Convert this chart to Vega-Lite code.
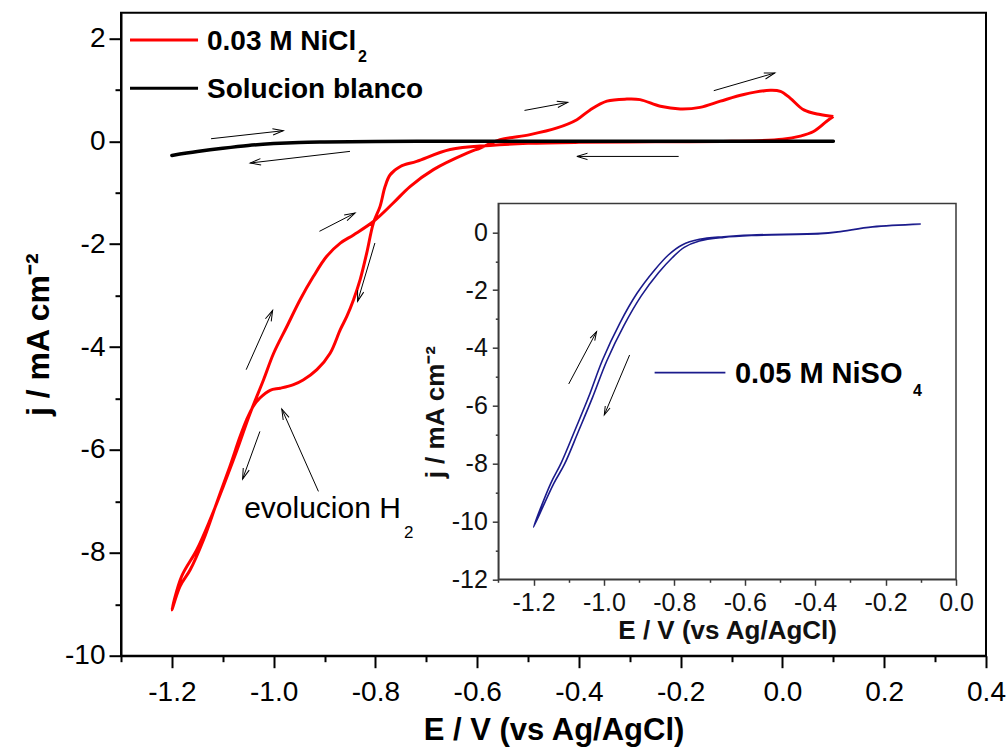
{
  "$schema": "https://vega.github.io/schema/vega-lite/v6.json",
  "width": 865,
  "height": 643,
  "autosize": {"type": "none"},
  "padding": {"left": 121, "top": 12.7, "right": 22, "bottom": 94.3},
  "config": {
    "font": "Liberation Sans",
    "view": {"stroke": "#000000", "strokeWidth": 2},
    "axis": {"grid": false}
  },
  "datasets": {
    "nicl2": [
      {"i": 1, "E": 0.100, "j": 0.48}, {"i": 2, "E": 0.087, "j": 0.39}, {"i": 3, "E": 0.061, "j": 0.19},
      {"i": 4, "E": 0.035, "j": 0.10}, {"i": 5, "E": 0.000, "j": 0.04}, {"i": 6, "E": -0.10, "j": 0.0},
      {"i": 7, "E": -0.25, "j": -0.01}, {"i": 8, "E": -0.40, "j": -0.02}, {"i": 9, "E": -0.50, "j": -0.04},
      {"i": 10, "E": -0.575, "j": -0.08}, {"i": 11, "E": -0.653, "j": -0.16}, {"i": 12, "E": -0.719, "j": -0.39},
      {"i": 13, "E": -0.751, "j": -0.49}, {"i": 14, "E": -0.771, "j": -0.65}, {"i": 15, "E": -0.781, "j": -0.88},
      {"i": 16, "E": -0.791, "j": -1.27}, {"i": 17, "E": -0.804, "j": -1.59}, {"i": 18, "E": -0.817, "j": -2.17},
      {"i": 19, "E": -0.830, "j": -2.69}, {"i": 20, "E": -0.843, "j": -3.08}, {"i": 21, "E": -0.856, "j": -3.40},
      {"i": 22, "E": -0.869, "j": -3.66}, {"i": 23, "E": -0.889, "j": -4.12}, {"i": 24, "E": -0.915, "j": -4.44},
      {"i": 25, "E": -0.942, "j": -4.64}, {"i": 26, "E": -0.961, "j": -4.73}, {"i": 27, "E": -0.987, "j": -4.80},
      {"i": 28, "E": -1.007, "j": -4.84}, {"i": 29, "E": -1.027, "j": -4.99}, {"i": 30, "E": -1.040, "j": -5.15},
      {"i": 31, "E": -1.053, "j": -5.41}, {"i": 32, "E": -1.066, "j": -5.74}, {"i": 33, "E": -1.086, "j": -6.32},
      {"i": 34, "E": -1.112, "j": -7.03}, {"i": 35, "E": -1.138, "j": -7.75}, {"i": 36, "E": -1.164, "j": -8.33},
      {"i": 37, "E": -1.184, "j": -8.65}, {"i": 38, "E": -1.200, "j": -9.11}, {"i": 39, "E": -1.181, "j": -8.46},
      {"i": 40, "E": -1.151, "j": -7.94}, {"i": 41, "E": -1.125, "j": -7.36}, {"i": 42, "E": -1.099, "j": -6.71},
      {"i": 43, "E": -1.072, "j": -6.00}, {"i": 44, "E": -1.046, "j": -5.28}, {"i": 45, "E": -1.020, "j": -4.64},
      {"i": 46, "E": -1.000, "j": -4.12}, {"i": 47, "E": -0.974, "j": -3.60}, {"i": 48, "E": -0.948, "j": -3.08},
      {"i": 49, "E": -0.922, "j": -2.63}, {"i": 50, "E": -0.896, "j": -2.24}, {"i": 51, "E": -0.869, "j": -1.98},
      {"i": 52, "E": -0.843, "j": -1.82}, {"i": 53, "E": -0.804, "j": -1.56}, {"i": 54, "E": -0.765, "j": -1.20},
      {"i": 55, "E": -0.732, "j": -0.88}, {"i": 56, "E": -0.686, "j": -0.55}, {"i": 57, "E": -0.620, "j": -0.23},
      {"i": 58, "E": -0.594, "j": -0.13}, {"i": 59, "E": -0.555, "j": 0.03}, {"i": 60, "E": -0.496, "j": 0.13},
      {"i": 61, "E": -0.443, "j": 0.26}, {"i": 62, "E": -0.404, "j": 0.42}, {"i": 63, "E": -0.378, "j": 0.61},
      {"i": 64, "E": -0.345, "j": 0.78}, {"i": 65, "E": -0.306, "j": 0.82}, {"i": 66, "E": -0.280, "j": 0.81},
      {"i": 67, "E": -0.240, "j": 0.68}, {"i": 68, "E": -0.201, "j": 0.63}, {"i": 69, "E": -0.162, "j": 0.66},
      {"i": 70, "E": -0.122, "j": 0.78}, {"i": 71, "E": -0.076, "j": 0.91}, {"i": 72, "E": -0.024, "j": 0.99},
      {"i": 73, "E": -0.004, "j": 0.97}, {"i": 74, "E": 0.015, "j": 0.84}, {"i": 75, "E": 0.042, "j": 0.61},
      {"i": 76, "E": 0.074, "j": 0.52}, {"i": 77, "E": 0.100, "j": 0.48}
    ],
    "blanco": [
      {"i": 1, "E": 0.10, "j": 0.0}, {"i": 2, "E": -0.60, "j": 0.0}, {"i": 3, "E": -0.80, "j": -0.004},
      {"i": 4, "E": -0.90, "j": -0.012}, {"i": 5, "E": -0.95, "j": -0.022}, {"i": 6, "E": -1.00, "j": -0.045},
      {"i": 7, "E": -1.05, "j": -0.08}, {"i": 8, "E": -1.10, "j": -0.135}, {"i": 9, "E": -1.15, "j": -0.20},
      {"i": 10, "E": -1.20, "j": -0.275}
    ],
    "niso4": [
      {"i": 1, "E": -0.10, "j": 0.28}, {"i": 2, "E": -0.237, "j": 0.185}, {"i": 3, "E": -0.335, "j": 0.01},
      {"i": 4, "E": -0.385, "j": -0.05}, {"i": 5, "E": -0.581, "j": -0.11}, {"i": 6, "E": -0.66, "j": -0.175},
      {"i": 7, "E": -0.729, "j": -0.30}, {"i": 8, "E": -0.772, "j": -0.52}, {"i": 9, "E": -0.806, "j": -0.88},
      {"i": 10, "E": -0.845, "j": -1.40}, {"i": 11, "E": -0.894, "j": -2.20}, {"i": 12, "E": -0.943, "j": -3.22},
      {"i": 13, "E": -0.992, "j": -4.45}, {"i": 14, "E": -1.032, "j": -5.70}, {"i": 15, "E": -1.072, "j": -6.87},
      {"i": 16, "E": -1.112, "j": -8.02}, {"i": 17, "E": -1.143, "j": -8.70}, {"i": 18, "E": -1.20, "j": -10.2},
      {"i": 19, "E": -1.151, "j": -8.68}, {"i": 20, "E": -1.122, "j": -7.99}, {"i": 21, "E": -1.082, "j": -6.835},
      {"i": 22, "E": -1.043, "j": -5.68}, {"i": 23, "E": -1.004, "j": -4.415}, {"i": 24, "E": -0.955, "j": -3.146},
      {"i": 25, "E": -0.906, "j": -2.109}, {"i": 26, "E": -0.856, "j": -1.303}, {"i": 27, "E": -0.817, "j": -0.784},
      {"i": 28, "E": -0.778, "j": -0.438}, {"i": 29, "E": -0.729, "j": -0.243}, {"i": 30, "E": -0.66, "j": -0.151},
      {"i": 31, "E": -0.581, "j": -0.093}, {"i": 32, "E": -0.385, "j": -0.035}, {"i": 33, "E": -0.335, "j": 0.021},
      {"i": 34, "E": -0.237, "j": 0.194}, {"i": 35, "E": -0.10, "j": 0.288}
    ],
    "legendMain": [
      {"serie": "0.03 M NiCl2", "E": -1.2823, "E2": -1.1486, "j": 1.97},
      {"serie": "Solucion blanco", "E": -1.2823, "E2": -1.1486, "j": 1.03}
    ],
    "labelsMainBold": [
      {"E": -1.131, "j": 1.775, "t": "0.03 M NiCl"},
      {"E": -1.131, "j": 0.842, "t": "Solucion blanco"}
    ],
    "subMainBold": [{"E": -0.834, "j": 1.547, "t": "2"}],
    "labelsMainPlain": [{"E": -1.058, "j": -7.33, "t": "evolucion H"}],
    "subMainPlain": [{"E": -0.744, "j": -7.718, "t": "2"}],
    "arrowsMain": [
      {"E": -1.123, "j": 0.05, "E2": -0.981, "j2": 0.206},
      {"E": -0.850, "j": -0.196, "E2": -1.046, "j2": -0.422},
      {"E": -0.507, "j": 0.60, "E2": -0.422, "j2": 0.756},
      {"E": -0.135, "j": 0.984, "E2": -0.015, "j2": 1.328},
      {"E": -0.204, "j": -0.294, "E2": -0.404, "j2": -0.294},
      {"E": -0.910, "j": -1.75, "E2": -0.840, "j2": -1.394},
      {"E": -0.801, "j": -1.977, "E2": -0.835, "j2": -3.112},
      {"E": -1.054, "j": -4.44, "E2": -1.002, "j2": -3.287},
      {"E": -1.027, "j": -5.64, "E2": -1.061, "j2": -6.565},
      {"E": -0.912, "j": -6.806, "E2": -0.984, "j2": -5.204}
    ],
    "insetFrame": [{"E": -1.3, "E2": 0.0, "j": -12, "j2": 1}],
    "legendInset": [{"E": -0.856, "E2": -0.655, "j": -4.854}],
    "labelInset": [{"E": -0.628, "j": -5.22, "t": "0.05 M NiSO"}],
    "subInset": [{"E": -0.122, "j": -5.66, "t": "4"}],
    "arrowsInset": [
      {"E": -1.10, "j": -5.245, "E2": -1.021, "j2": -3.436},
      {"E": -0.927, "j": -4.242, "E2": -0.999, "j2": -6.317}
    ]
  },
  "layer": [
    {
      "layer": [
        {
          "data": {"name": "nicl2"},
          "mark": {"type": "line", "color": "#ff0000", "strokeWidth": 3, "strokeJoin": "round", "interpolate": "catmull-rom"},
          "encoding": {
            "x": {
              "field": "E", "type": "quantitative",
              "scale": {"domain": [-1.3, 0.4], "nice": false, "zero": false},
              "axis": {
                "orient": "bottom",
                "title": "E / V (vs Ag/AgCl)",
                "values": [-1.2, -1.0, -0.8, -0.6, -0.4, -0.2, 0, 0.2, 0.4],
                "labelExpr": "(datum.value < -1e-9 ? '-' : '') + format(abs(datum.value), '.1f')",
                "tickSize": 12, "tickWidth": 2, "tickColor": "#000000",
                "domainColor": "#000000", "domainWidth": 2,
                "labelFontSize": 28, "labelColor": "#000000", "labelPadding": 11,
                "labelOverlap": false, "labelFlush": false,
                "titleFontSize": 31, "titleFontWeight": "bold", "titleColor": "#000000",
                "titleBaseline": "alphabetic", "titleY": 84
              }
            },
            "y": {
              "field": "j", "type": "quantitative",
              "scale": {"domain": [-10, 2.5], "nice": false, "zero": false},
              "axis": {
                "orient": "left",
                "title": "j / mA cm⁻²",
                "values": [-10, -8, -6, -4, -2, 0, 2],
                "labelExpr": "(datum.value < 0 ? '-' : '') + format(abs(datum.value), 'd')",
                "tickSize": 12, "tickWidth": 2, "tickColor": "#000000",
                "domainColor": "#000000", "domainWidth": 2,
                "labelFontSize": 28, "labelColor": "#000000", "labelPadding": 4,
                "labelOverlap": false, "labelFlush": false,
                "titleFontSize": 32, "titleFontWeight": "bold", "titleColor": "#000000",
                "titleAngle": 270, "titleBaseline": "alphabetic", "titleX": -73
              }
            },
            "order": {"field": "i", "type": "quantitative"}
          }
        },
        {
          "data": {"name": "blanco"},
          "mark": {"type": "line", "color": "#000000", "strokeWidth": 3.5, "strokeCap": "round", "interpolate": "monotone"},
          "encoding": {
            "x": {
              "field": "E", "type": "quantitative",
              "axis": {
                "orient": "bottom", "title": null, "labels": false, "domain": false,
                "values": [-1.3, -1.1, -0.9, -0.7, -0.5, -0.3, -0.1, 0.1, 0.3],
                "tickSize": 6, "tickWidth": 2, "tickColor": "#000000"
              }
            },
            "y": {
              "field": "j", "type": "quantitative",
              "axis": {
                "orient": "left", "title": null, "labels": false, "domain": false,
                "values": [-9, -7, -5, -3, -1, 1],
                "tickSize": 6, "tickWidth": 2, "tickColor": "#000000"
              }
            },
            "order": {"field": "i", "type": "quantitative"}
          }
        },
        {
          "data": {"name": "legendMain"},
          "mark": {"type": "rule", "strokeWidth": 3},
          "encoding": {
            "x": {"field": "E", "type": "quantitative", "axis": null},
            "x2": {"field": "E2"},
            "y": {"field": "j", "type": "quantitative", "axis": null},
            "color": {
              "field": "serie", "type": "nominal",
              "scale": {"domain": ["0.03 M NiCl2", "Solucion blanco"], "range": ["#ff0000", "#000000"]},
              "legend": null
            }
          }
        },
        {
          "data": {"name": "labelsMainBold"},
          "mark": {"type": "text", "align": "left", "baseline": "alphabetic", "fontSize": 28, "fontWeight": "bold", "color": "#000000"},
          "encoding": {
            "x": {"field": "E", "type": "quantitative", "axis": null},
            "y": {"field": "j", "type": "quantitative", "axis": null},
            "text": {"field": "t"}
          }
        },
        {
          "data": {"name": "subMainBold"},
          "mark": {"type": "text", "align": "left", "baseline": "alphabetic", "fontSize": 16, "fontWeight": "bold", "color": "#000000"},
          "encoding": {
            "x": {"field": "E", "type": "quantitative", "axis": null},
            "y": {"field": "j", "type": "quantitative", "axis": null},
            "text": {"field": "t"}
          }
        },
        {
          "data": {"name": "labelsMainPlain"},
          "mark": {"type": "text", "align": "left", "baseline": "alphabetic", "fontSize": 30, "color": "#000000"},
          "encoding": {
            "x": {"field": "E", "type": "quantitative", "axis": null},
            "y": {"field": "j", "type": "quantitative", "axis": null},
            "text": {"field": "t"}
          }
        },
        {
          "data": {"name": "subMainPlain"},
          "mark": {"type": "text", "align": "left", "baseline": "alphabetic", "fontSize": 17, "color": "#000000"},
          "encoding": {
            "x": {"field": "E", "type": "quantitative", "axis": null},
            "y": {"field": "j", "type": "quantitative", "axis": null},
            "text": {"field": "t"}
          }
        },
        {
          "data": {"name": "arrowsMain"},
          "mark": {"type": "rule", "color": "#000000", "strokeWidth": 1},
          "encoding": {
            "x": {"field": "E", "type": "quantitative", "axis": null},
            "y": {"field": "j", "type": "quantitative", "axis": null},
            "x2": {"field": "E2"},
            "y2": {"field": "j2"}
          }
        },
        {
          "data": {"name": "arrowsMain"},
          "mark": {
            "type": "point", "shape": "M -0.3 1 L 0 0 L 0.3 1", "filled": false,
            "size": 450, "strokeWidth": 1, "color": "#000000", "opacity": 1,
            "angle": {"expr": "atan2((datum.E2 - datum.E) * 508.6, (datum.j2 - datum.j) * 51.44) * 180 / PI"}
          },
          "encoding": {
            "x": {"field": "E2", "type": "quantitative", "axis": null},
            "y": {"field": "j2", "type": "quantitative", "axis": null}
          }
        }
      ],
      "resolve": {"axis": {"x": "independent", "y": "independent"}}
    },
    {
      "layer": [
        {
          "data": {"name": "niso4"},
          "mark": {"type": "line", "color": "#1b1b8c", "strokeWidth": 1.6, "interpolate": "catmull-rom"},
          "encoding": {
            "x": {
              "field": "E", "type": "quantitative",
              "scale": {"domain": [-1.3, 0.0], "range": [377.3, 835], "nice": false, "zero": false},
              "axis": {
                "orient": "bottom", "offset": -76.4,
                "title": "E / V (vs Ag/AgCl)",
                "values": [-1.2, -1.0, -0.8, -0.6, -0.4, -0.2, 0],
                "labelExpr": "(datum.value < -1e-9 ? '-' : '') + format(abs(datum.value), '.1f')",
                "tickSize": 6, "tickWidth": 1.5, "tickColor": "#3a3a3a",
                "domainColor": "#3a3a3a", "domainWidth": 1.5,
                "labelFontSize": 25, "labelColor": "#111111", "labelPadding": 5,
                "labelOverlap": false, "labelFlush": false,
                "titleFontSize": 26, "titleFontWeight": "bold", "titleColor": "#111111",
                "titleBaseline": "alphabetic", "titleY": 59
              }
            },
            "y": {
              "field": "j", "type": "quantitative",
              "scale": {"domain": [-12, 1], "range": [566.6, 190.7], "nice": false, "zero": false},
              "axis": {
                "orient": "left", "offset": -377.3,
                "title": "j / mA cm⁻²",
                "values": [-12, -10, -8, -6, -4, -2, 0],
                "labelExpr": "(datum.value < 0 ? '-' : '') + format(abs(datum.value), 'd')",
                "tickSize": 6, "tickWidth": 1.5, "tickColor": "#3a3a3a",
                "domainColor": "#3a3a3a", "domainWidth": 1.5,
                "labelFontSize": 25, "labelColor": "#111111", "labelPadding": 5,
                "labelOverlap": false, "labelFlush": false,
                "titleFontSize": 26, "titleFontWeight": "bold", "titleColor": "#111111",
                "titleAngle": 270, "titleBaseline": "alphabetic", "titleX": -55, "titleY": 399
              }
            },
            "order": {"field": "i", "type": "quantitative"}
          }
        },
        {
          "data": {"name": "insetFrame"},
          "mark": {"type": "rect", "fillOpacity": 0, "stroke": "#3a3a3a", "strokeWidth": 1.5},
          "encoding": {
            "x": {
              "field": "E", "type": "quantitative",
              "axis": {
                "orient": "bottom", "offset": -76.4, "title": null, "labels": false, "domain": false,
                "values": [-1.3, -1.1, -0.9, -0.7, -0.5, -0.3, -0.1],
                "tickSize": 3, "tickWidth": 1.5, "tickColor": "#3a3a3a"
              }
            },
            "x2": {"field": "E2"},
            "y": {
              "field": "j", "type": "quantitative",
              "axis": {
                "orient": "left", "offset": -377.3, "title": null, "labels": false, "domain": false,
                "values": [-11, -9, -7, -5, -3, -1],
                "tickSize": 3, "tickWidth": 1.5, "tickColor": "#3a3a3a"
              }
            },
            "y2": {"field": "j2"}
          }
        },
        {
          "data": {"name": "legendInset"},
          "mark": {"type": "rule", "color": "#1b1b8c", "strokeWidth": 1.6},
          "encoding": {
            "x": {"field": "E", "type": "quantitative", "axis": null},
            "x2": {"field": "E2"},
            "y": {"field": "j", "type": "quantitative", "axis": null}
          }
        },
        {
          "data": {"name": "labelInset"},
          "mark": {"type": "text", "align": "left", "baseline": "alphabetic", "fontSize": 29, "fontWeight": "bold", "color": "#000000"},
          "encoding": {
            "x": {"field": "E", "type": "quantitative", "axis": null},
            "y": {"field": "j", "type": "quantitative", "axis": null},
            "text": {"field": "t"}
          }
        },
        {
          "data": {"name": "subInset"},
          "mark": {"type": "text", "align": "left", "baseline": "alphabetic", "fontSize": 16, "fontWeight": "bold", "color": "#000000"},
          "encoding": {
            "x": {"field": "E", "type": "quantitative", "axis": null},
            "y": {"field": "j", "type": "quantitative", "axis": null},
            "text": {"field": "t"}
          }
        },
        {
          "data": {"name": "arrowsInset"},
          "mark": {"type": "rule", "color": "#000000", "strokeWidth": 1},
          "encoding": {
            "x": {"field": "E", "type": "quantitative", "axis": null},
            "y": {"field": "j", "type": "quantitative", "axis": null},
            "x2": {"field": "E2"},
            "y2": {"field": "j2"}
          }
        },
        {
          "data": {"name": "arrowsInset"},
          "mark": {
            "type": "point", "shape": "M -0.3 1 L 0 0 L 0.3 1", "filled": false,
            "size": 300, "strokeWidth": 1, "color": "#000000", "opacity": 1,
            "angle": {"expr": "atan2((datum.E2 - datum.E) * 352.1, (datum.j2 - datum.j) * 28.92) * 180 / PI"}
          },
          "encoding": {
            "x": {"field": "E2", "type": "quantitative", "axis": null},
            "y": {"field": "j2", "type": "quantitative", "axis": null}
          }
        }
      ],
      "resolve": {"axis": {"x": "independent", "y": "independent"}}
    }
  ],
  "resolve": {"scale": {"x": "independent", "y": "independent"}}
}
